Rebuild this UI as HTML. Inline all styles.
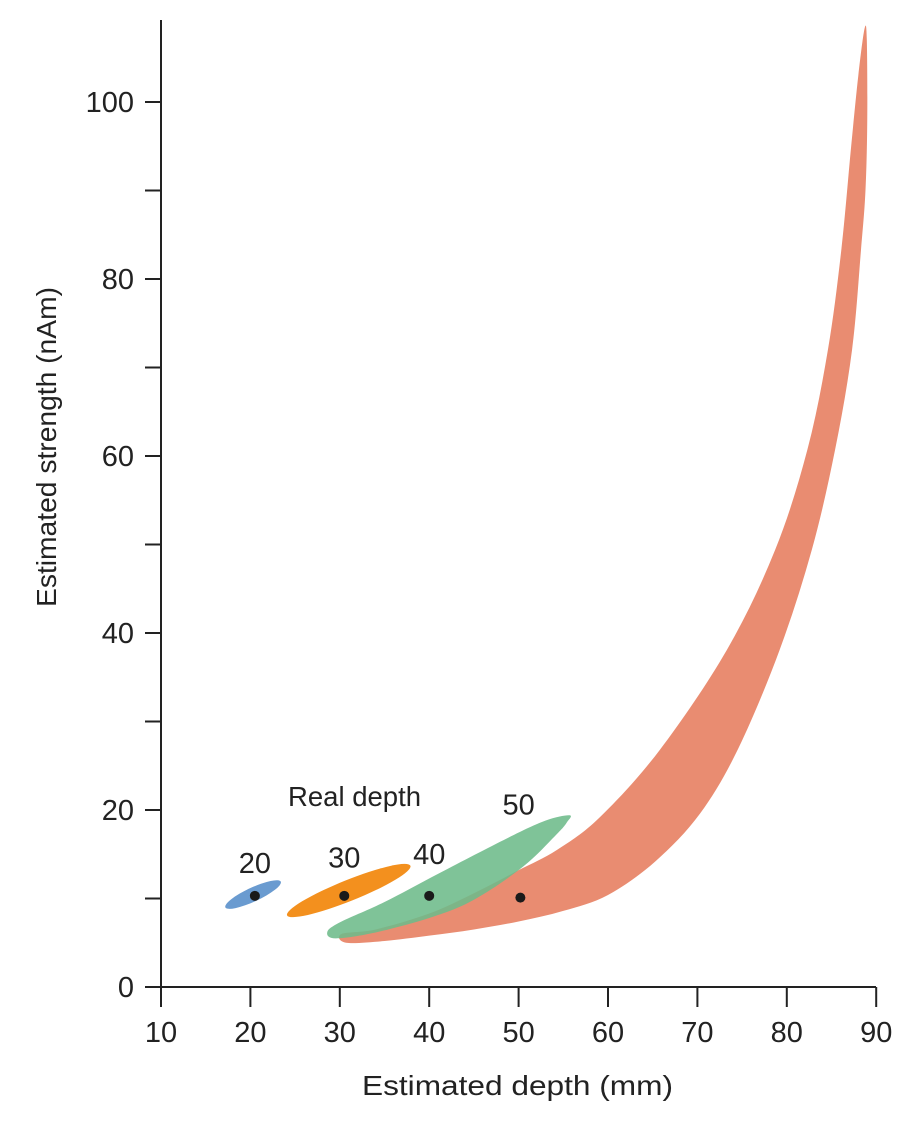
<!DOCTYPE html>
<html><head><meta charset="utf-8"><style>
body{margin:0;background:#fff}
svg text{font-family:"Liberation Sans",sans-serif;fill:#222}
</style></head><body>
<svg id="chart" width="916" height="1122" viewBox="0 0 916 1122" xmlns="http://www.w3.org/2000/svg"></svg>
<script>
const xTicks=[10,20,30,40,50,60,70,80,90];
const yMajor=[0,20,40,60,80,100];
const yMinor=[10,30,50,70,90,110];
const blueEnds=[[17.2,9.0],[23.4,11.9]];
const orangeEnds=[[24.1,8.1],[37.9,13.7]];
const greenUpper=[[28.6,6.2],[30,7.3],[35,9.6],[41.2,12.9],[48.7,16.8],[53,18.8],[55.7,19.4]];
const greenLower=[[55.4,18.6],[54.3,17.3],[50.5,13.6],[44.9,9.8],[40,7.8],[33.7,6.1],[29.5,5.5]];
const redUpper=[[30.2,6.0],[34,6.5],[40,8.3],[45,10.6],[50,13.2],[54.3,15.5],[59.1,19.2],[65.8,26.8],[73.3,38.1],[78.7,49.4],[82.3,60.7],[84.6,72],[86.1,83.3],[87.2,95],[88,103],[88.7,108.3]];
const redLower=[[88.95,107],[89,98],[88.8,90],[88.3,83.3],[87.3,72],[85.4,60.7],[82.8,49.4],[79.2,38.1],[74.6,27],[70.3,19.6],[65.3,14.2],[60,10.4],[55,8.6],[50,7.4],[45,6.5],[40,5.8],[35,5.2],[30.7,5.0]];
const realDepths=[20,30,40,50];
const dotX=[20.5,30.5,40,50.2];
const dotY=[10.3,10.3,10.3,10.1];
const labelPos=[[20.5,12.9],[30.5,13.5],[40,13.9],[50,19.5]];

const NS="http://www.w3.org/2000/svg";
const svg=document.getElementById('chart');
const X=v=>161+(v-10)*8.94;
const Y=v=>987-v*8.85;
function mk(t,a,p){const e=document.createElementNS(NS,t);for(const k in a)e.setAttribute(k,a[k]);(p||svg).appendChild(e);return e;}
function smooth(pts){
  const P=pts.map(p=>[X(p[0]),Y(p[1])]);
  let d="M"+P[0][0]+","+P[0][1];
  const n=P.length;
  for(let i=0;i<n;i++){
    const p0=P[(i-1+n)%n],p1=P[i],p2=P[(i+1)%n],p3=P[(i+2)%n];
    d+=" C"+(p1[0]+(p2[0]-p0[0])/6)+","+(p1[1]+(p2[1]-p0[1])/6)+" "+(p2[0]-(p3[0]-p1[0])/6)+","+(p2[1]-(p3[1]-p1[1])/6)+" "+p2[0]+","+p2[1];
  }
  return d+"Z";
}
function ellipse(ends,ry,fill,name){
  const x1=X(ends[0][0]),y1=Y(ends[0][1]),x2=X(ends[1][0]),y2=Y(ends[1][1]);
  const cx=(x1+x2)/2,cy=(y1+y2)/2,rx=Math.hypot(x2-x1,y2-y1)/2,ang=Math.atan2(y2-y1,x2-x1)*180/Math.PI;
  const e=mk('ellipse',{cx:cx,cy:cy,rx:rx,ry:ry,fill:fill,transform:`rotate(${ang} ${cx} ${cy})`});
  
  
}
const red=mk('path',{d:smooth(redUpper.concat(redLower)),fill:'#e98c71'});


const green=mk('path',{d:smooth(greenUpper.concat(greenLower)),fill:'#6dbb8a',opacity:'0.88'});


ellipse(orangeEnds,10.5,'#f3901e','depth-30-region');
ellipse(blueEnds,7,'#6a9bd0','depth-20-region');
dotX.forEach((x,i)=>{const c=mk('circle',{cx:X(x),cy:Y(dotY[i]),r:5,fill:'#1a1a1a'});

});
realDepths.forEach((d,i)=>{const t=mk('text',{x:X(labelPos[i][0]),y:Y(labelPos[i][1]),'font-size':29,'text-anchor':'middle'});t.textContent=d;

});
const rd=mk('text',{x:288,y:806,'font-size':28,textLength:133,lengthAdjust:'spacingAndGlyphs'});rd.textContent='Real depth';


const ax=mk('path',{d:`M161,20 V987 H876`,stroke:'#222','stroke-width':2,fill:'none'});


xTicks.forEach(v=>{mk('line',{x1:X(v),x2:X(v),y1:987,y2:1007,stroke:'#222','stroke-width':2});
const t=mk('text',{x:X(v),y:1042,'font-size':29,'text-anchor':'middle'});t.textContent=v;

});
yMajor.forEach(v=>{mk('line',{x1:145,x2:161,y1:Y(v),y2:Y(v),stroke:'#222','stroke-width':2});
const t=mk('text',{x:134,y:Y(v)+10,'font-size':29,'text-anchor':'end'});t.textContent=v;

});
yMinor.forEach(v=>{if(Y(v)>=19)mk('line',{x1:145,x2:161,y1:Y(v),y2:Y(v),stroke:'#222','stroke-width':2});});
const xt=mk('text',{x:362,y:1095,'font-size':28,textLength:311,lengthAdjust:'spacingAndGlyphs'});xt.textContent='Estimated depth (mm)';


const yt=mk('text',{x:-160,y:0,'font-size':28,textLength:320,lengthAdjust:'spacingAndGlyphs',transform:'translate(56,447) rotate(-90)'});yt.textContent='Estimated strength (nAm)';


</script>
</body></html>
